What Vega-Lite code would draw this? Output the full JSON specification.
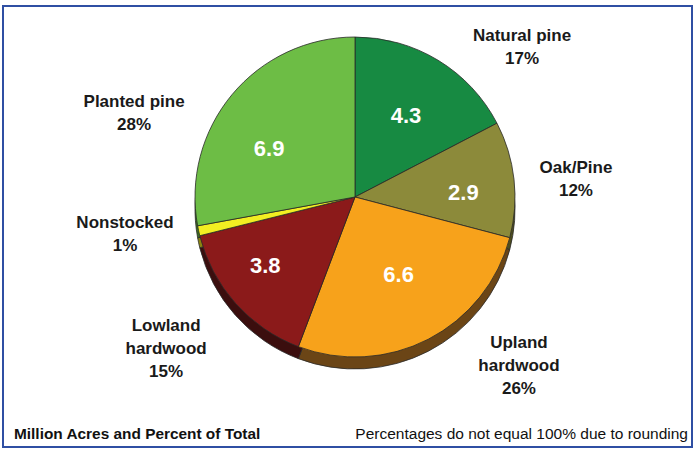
{
  "$schema": "https://vega.github.io/schema/vega-lite/v6.json",
  "width": 689,
  "height": 441,
  "autosize": "none",
  "padding": {"left": 3, "top": 6, "right": 1, "bottom": 2},
  "background": "white",
  "config": {"view": {"stroke": null}},
  "datasets": {
    "forest": [
      {"idx": 1, "type": "Natural pine", "acres": 4.3, "inside": "4.3", "outside": "Natural pine\n17%"},
      {"idx": 2, "type": "Oak/Pine", "acres": 2.9, "inside": "2.9", "outside": "Oak/Pine\n12%"},
      {"idx": 3, "type": "Upland hardwood", "acres": 6.6, "inside": "6.6", "outside": "Upland\nhardwood\n26%"},
      {"idx": 4, "type": "Lowland hardwood", "acres": 3.8, "inside": "3.8", "outside": "Lowland\nhardwood\n15%"},
      {"idx": 5, "type": "Nonstocked", "acres": 0.25, "inside": "", "outside": "Nonstocked\n1%"},
      {"idx": 6, "type": "Planted pine", "acres": 6.9, "inside": "6.9", "outside": "Planted pine\n28%"}
    ],
    "notes": [
      {"left": "Million Acres and Percent of Total", "right": "Percentages do not equal 100% due to rounding"}
    ]
  },
  "layer": [
    {
      "data": {"name": "notes"},
      "mark": {"type": "rect", "fill": null, "stroke": "#2f4fa3", "strokeWidth": 2},
      "encoding": {}
    },
    {
      "data": {"name": "forest"},
      "mark": {"type": "arc", "outerRadius": 160, "xOffset": 7.5, "yOffset": -17.5, "stroke": "#2a2a2a", "strokeWidth": 0.8},
      "encoding": {
        "theta": {"field": "acres", "type": "quantitative", "stack": true},
        "order": {"field": "idx", "type": "quantitative"},
        "color": {
          "field": "type", "type": "nominal", "legend": null,
          "scale": {
            "domain": ["Natural pine", "Oak/Pine", "Upland hardwood", "Lowland hardwood", "Nonstocked", "Planted pine"],
            "range": ["#0e5a2a", "#4e4d1e", "#6b4516", "#3b0e0e", "#8a8410", "#3c6e22"]
          }
        }
      }
    },
    {
      "data": {"name": "forest"},
      "mark": {"type": "arc", "outerRadius": 160, "xOffset": 7.5, "yOffset": -29.5, "stroke": "#2a2a2a", "strokeWidth": 0.8},
      "encoding": {
        "theta": {"field": "acres", "type": "quantitative", "stack": true},
        "order": {"field": "idx", "type": "quantitative"},
        "fill": {
          "field": "type", "type": "nominal", "legend": null,
          "scale": {
            "domain": ["Natural pine", "Oak/Pine", "Upland hardwood", "Lowland hardwood", "Nonstocked", "Planted pine"],
            "range": ["#178a42", "#8c8a3a", "#f7a21b", "#8b1a1a", "#f2ee22", "#6dbd45"]
          }
        }
      }
    },
    {
      "data": {"name": "forest"},
      "mark": {
        "type": "text", "radius": 104, "fill": "white", "font": "Liberation Sans, Arial, sans-serif", "fontWeight": "bold", "fontSize": 22, "align": "center", "baseline": "middle",
        "dx": {"expr": "{'Natural pine': 4.5, 'Oak/Pine': 12.5, 'Upland hardwood': 3.5, 'Lowland hardwood': -4.5, 'Nonstocked': 0, 'Planted pine': 1.5}[datum.type]"},
        "dy": {"expr": "{'Natural pine': -22, 'Oak/Pine': -22, 'Upland hardwood': -44, 'Lowland hardwood': -30, 'Nonstocked': 0, 'Planted pine': -11}[datum.type]"}
      },
      "encoding": {
        "theta": {"field": "acres", "type": "quantitative", "stack": true},
        "order": {"field": "idx", "type": "quantitative"},
        "text": {"field": "inside", "type": "nominal"}
      }
    },
    {
      "data": {"name": "forest"},
      "mark": {
        "type": "text", "radius": 200, "lineBreak": "\n", "lineHeight": 23,
        "fill": "#1a1a1a", "font": "Liberation Sans, Arial, sans-serif", "fontWeight": "bold", "fontSize": 17, "align": "center", "baseline": "middle",
        "dx": {"expr": "{'Natural pine': 70.7, 'Oak/Pine': 29.7, 'Upland hardwood': 79.8, 'Lowland hardwood': -31.9, 'Nonstocked': -27, 'Planted pine': -59.8}[datum.type]"},
        "dy": {"expr": "{'Natural pine': -20, 'Oak/Pine': -36.5, 'Upland hardwood': -61, 'Lowland hardwood': -33, 'Nonstocked': -46, 'Planted pine': 3.5}[datum.type]"}
      },
      "encoding": {
        "theta": {"field": "acres", "type": "quantitative", "stack": true},
        "order": {"field": "idx", "type": "quantitative"},
        "text": {"field": "outside", "type": "nominal"}
      }
    },
    {
      "data": {"name": "notes"},
      "mark": {"type": "text", "x": 11, "y": 428, "align": "left", "baseline": "middle", "font": "Liberation Sans, Arial, sans-serif", "fontWeight": "bold", "fontSize": 15.4, "fill": "#111"},
      "encoding": {"text": {"field": "left", "type": "nominal"}}
    },
    {
      "data": {"name": "notes"},
      "mark": {"type": "text", "x": {"expr": "width - 4"}, "y": 428, "align": "right", "baseline": "middle", "font": "Liberation Sans, Arial, sans-serif", "fontSize": 15.5, "fill": "#111"},
      "encoding": {"text": {"field": "right", "type": "nominal"}}
    }
  ],
  "resolve": {"scale": {"color": "independent", "fill": "independent", "theta": "shared"}}
}
